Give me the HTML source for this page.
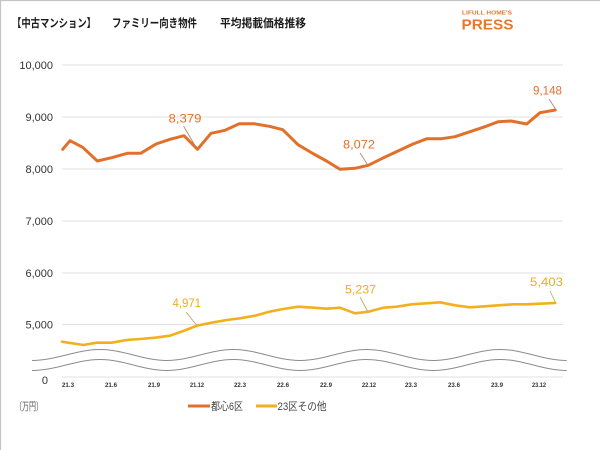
<!DOCTYPE html>
<html>
<head>
<meta charset="utf-8">
<style>
html,body{margin:0;padding:0;background:#fff;}
body{width:600px;height:450px;overflow:hidden;}
svg{display:block;}
text{font-family:"Liberation Sans","Noto Sans CJK JP",sans-serif;}
</style>
</head>
<body>
<svg width="600" height="450" viewBox="0 0 600 450" xmlns="http://www.w3.org/2000/svg">
  <rect x="0" y="0" width="600" height="450" fill="#fff"/>
  <line x1="0.5" y1="0" x2="0.5" y2="450" stroke="#c4c4c4" stroke-width="1.2"/>
  <line x1="0" y1="0.5" x2="600" y2="0.5" stroke="#c4c4c4" stroke-width="1.2"/>

  <!-- title -->
  <g font-size="11.5" fill="#1a1a1a" font-weight="bold">
    <text x="12" y="27" textLength="84" lengthAdjust="spacingAndGlyphs">【中古マンション】</text>
    <text x="112" y="27" textLength="85" lengthAdjust="spacingAndGlyphs">ファミリー向き物件</text>
    <text x="220" y="27" textLength="86" lengthAdjust="spacingAndGlyphs">平均掲載価格推移</text>
  </g>

  <!-- logo -->
  <text x="462" y="14.5" font-size="5.5" font-weight="bold" fill="#E8782A" textLength="50" lengthAdjust="spacingAndGlyphs">LIFULL HOME'S</text>
  <text x="461.5" y="29.5" font-size="15" font-weight="bold" fill="#E8782A" textLength="52" lengthAdjust="spacingAndGlyphs">PRESS</text>

  <!-- gridlines -->
  <g stroke="#e2e2e2" stroke-width="1">
    <line x1="62" y1="65" x2="563" y2="65"/>
    <line x1="62" y1="117" x2="563" y2="117"/>
    <line x1="62" y1="169" x2="563" y2="169"/>
    <line x1="62" y1="221" x2="563" y2="221"/>
    <line x1="62" y1="273" x2="563" y2="273"/>
    <line x1="62" y1="324.5" x2="563" y2="324.5"/>
    <line x1="62" y1="377" x2="563" y2="377"/>
  </g>

  <!-- y labels -->
  <g font-size="11" fill="#333" text-anchor="end">
    <text x="53" y="69">10,000</text>
    <text x="53" y="121">9,000</text>
    <text x="53" y="173">8,000</text>
    <text x="53" y="225">7,000</text>
    <text x="53" y="277">6,000</text>
    <text x="53" y="328.5">5,000</text>
    <text x="48" y="384">0</text>
  </g>

  <!-- wave break lines -->
  <g fill="none" stroke="#8c8c8c" stroke-width="1">
    <path d="M32,360.5 C56,360.5 76,349.5 100,349.5 S142.7,360.5 166.7,360.5 S209.3,349.5 233.3,349.5 S276,360.5 300,360.5 S342.7,349.5 366.7,349.5 S409.3,360.5 433.3,360.5 S476,349.5 500,349.5 S542.7,360.5 566.7,360.5"/>
    <path d="M32,370.5 C56,370.5 76,359.5 100,359.5 S142.7,370.5 166.7,370.5 S209.3,359.5 233.3,359.5 S276,370.5 300,370.5 S342.7,359.5 366.7,359.5 S409.3,370.5 433.3,370.5 S476,359.5 500,359.5 S542.7,370.5 566.7,370.5"/>
  </g>

  <!-- x labels -->
  <g font-size="6" font-weight="bold" fill="#333">
    <text x="62" y="387" textLength="12" lengthAdjust="spacingAndGlyphs">21.3</text>
    <text x="105" y="387" textLength="12" lengthAdjust="spacingAndGlyphs">21.6</text>
    <text x="148" y="387" textLength="12" lengthAdjust="spacingAndGlyphs">21.9</text>
    <text x="190" y="387" textLength="14" lengthAdjust="spacingAndGlyphs">21.12</text>
    <text x="234" y="387" textLength="12" lengthAdjust="spacingAndGlyphs">22.3</text>
    <text x="277" y="387" textLength="12" lengthAdjust="spacingAndGlyphs">22.6</text>
    <text x="320" y="387" textLength="12" lengthAdjust="spacingAndGlyphs">22.9</text>
    <text x="362" y="387" textLength="14" lengthAdjust="spacingAndGlyphs">22.12</text>
    <text x="405" y="387" textLength="12" lengthAdjust="spacingAndGlyphs">23.3</text>
    <text x="448" y="387" textLength="12" lengthAdjust="spacingAndGlyphs">23.6</text>
    <text x="491" y="387" textLength="12" lengthAdjust="spacingAndGlyphs">23.9</text>
    <text x="532" y="387" textLength="14" lengthAdjust="spacingAndGlyphs">23.12</text>
  </g>

  <!-- orange series -->
  <polyline fill="none" stroke="#E2702A" stroke-width="3" stroke-linejoin="round" stroke-linecap="round"
    points="62.7,149.3 70,140.7 82.7,147.3 97.3,161 111.7,157.7 127.3,153.3 140.7,153.3 156,144 170,139.3 184,135.7 197.5,149.3 211,133.3 225,130.3 239.3,123.7 254,123.7 269.3,126.3 282.7,129.7 298,144.7 312,153 326.5,161 340,169.3 355,168.3 368.3,165.3 383,158 398,151 413,144 427,138.7 441.7,138.7 455,136.7 470,131.7 485,126.7 498.3,121.7 511,121 526.7,124 540,112.7 555.3,110"/>

  <!-- yellow series -->
  <polyline fill="none" stroke="#F2B01E" stroke-width="2.6" stroke-linejoin="round" stroke-linecap="round"
    points="62,341.7 83.3,345 96.7,342.7 111.7,342.7 126.7,340 140,339 155,337.7 170,335.7 183.3,331 197.5,325.5 211.7,322.7 226.7,320 240,318.3 255,315.7 269.3,311.7 283.3,309 298,306.7 313.3,307.7 326.7,308.7 340,307.7 355,313.3 368.3,311.7 383.3,307.7 396.7,306.7 411.7,304.3 426.7,303.3 440,302.3 455,305.3 470,307.3 485,306.3 498.3,305.3 513.3,304.3 526.7,304.3 540,303.7 555.3,303"/>

  <!-- leader lines -->
  <g stroke="#b08060" stroke-width="0.8">
    <line x1="183.5" y1="126" x2="196.5" y2="148"/>
    <line x1="360" y1="153" x2="367.5" y2="164.5"/>
    <line x1="549" y1="99" x2="555.5" y2="109"/>
  </g>
  <g stroke="#c0a060" stroke-width="0.8">
    <line x1="186" y1="312" x2="196.5" y2="325"/>
    <line x1="360" y1="297" x2="367.5" y2="311"/>
    <line x1="550" y1="291" x2="555.5" y2="302.5"/>
  </g>

  <!-- data labels -->
  <g font-size="12" fill="#E2702A">
    <text x="168.5" y="122.5" textLength="33" lengthAdjust="spacingAndGlyphs">8,379</text>
    <text x="343" y="148.5" textLength="32" lengthAdjust="spacingAndGlyphs">8,072</text>
    <text x="533" y="94.5" textLength="29" lengthAdjust="spacingAndGlyphs">9,148</text>
  </g>
  <g font-size="12" fill="#EBAE1E">
    <text x="172.5" y="307" textLength="28.5" lengthAdjust="spacingAndGlyphs">4,971</text>
    <text x="345" y="293.5" textLength="31" lengthAdjust="spacingAndGlyphs">5,237</text>
    <text x="530" y="286" textLength="33" lengthAdjust="spacingAndGlyphs">5,403</text>
  </g>

  <!-- unit -->
  <text x="15" y="410" font-size="11" fill="#555" textLength="28" lengthAdjust="spacingAndGlyphs">（万円）</text>

  <!-- legend -->
  <line x1="188" y1="406" x2="210" y2="406" stroke="#E2702A" stroke-width="3"/>
  <text x="211" y="410" font-size="11" fill="#444" textLength="32" lengthAdjust="spacingAndGlyphs">都心6区</text>
  <line x1="256" y1="406" x2="277" y2="406" stroke="#F2B01E" stroke-width="3"/>
  <text x="277.5" y="410" font-size="11" fill="#444" textLength="49" lengthAdjust="spacingAndGlyphs">23区その他</text>
</svg>
</body>
</html>
